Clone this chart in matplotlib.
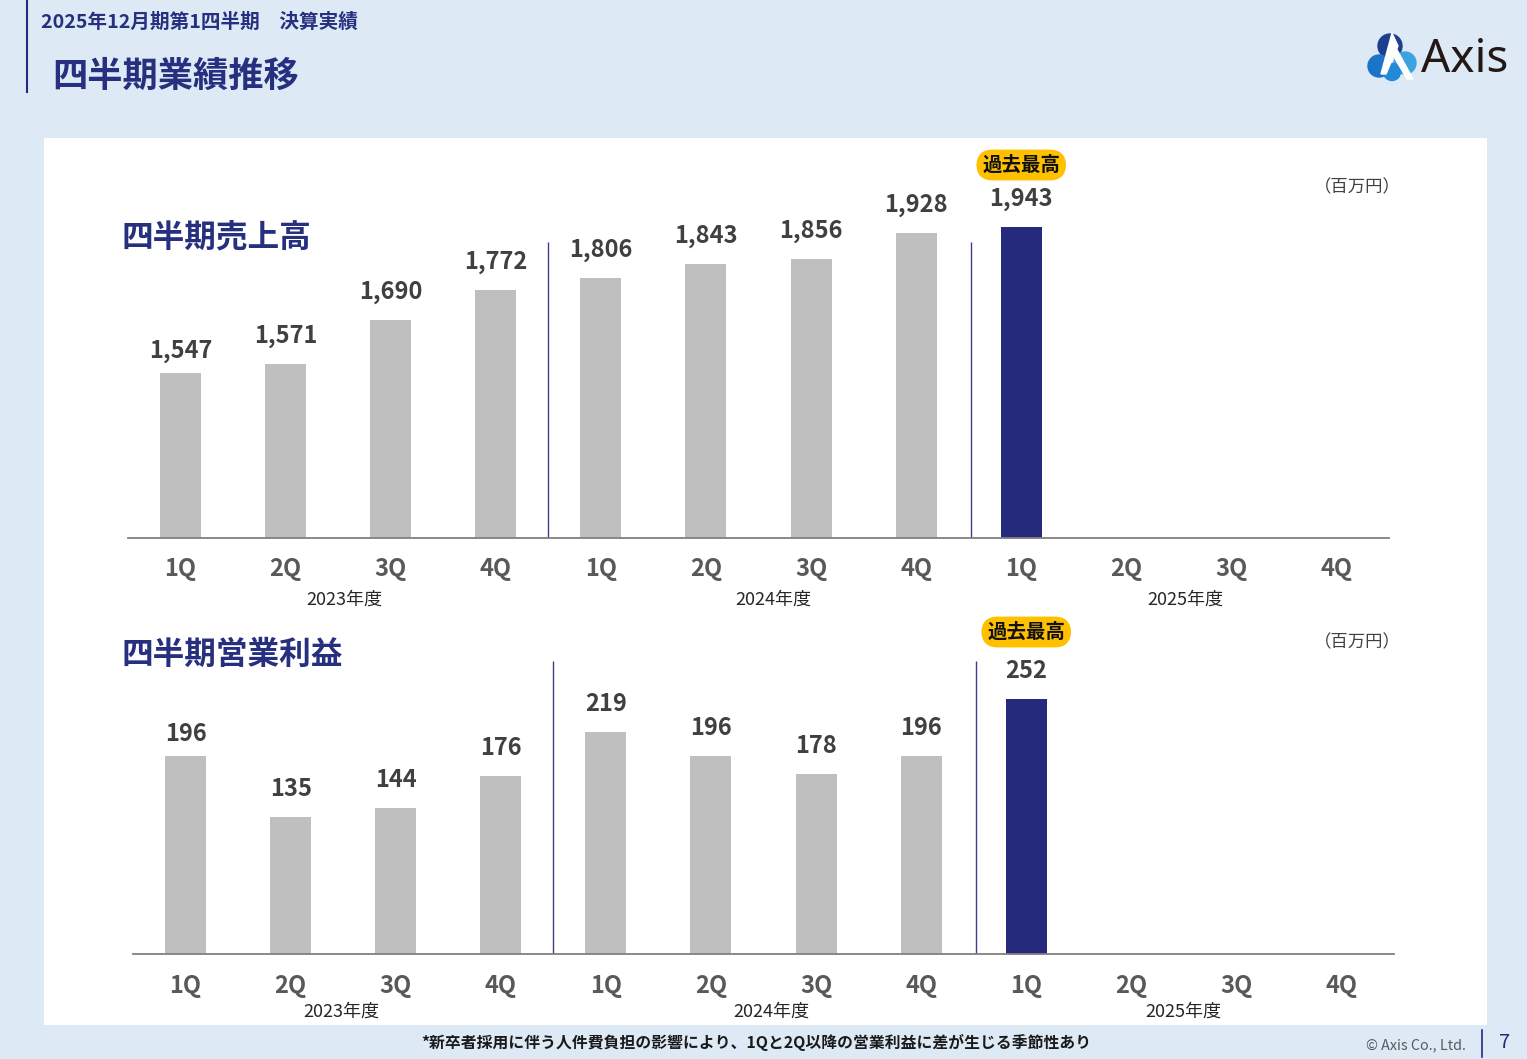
import matplotlib
matplotlib.use("Agg")
import matplotlib.pyplot as plt
from matplotlib.patches import Rectangle, Circle, Polygon

plt.rcParams['font.family'] = ['Noto Sans CJK JP', 'DejaVu Sans']

# ---- data ----
quarters = ['1Q', '2Q', '3Q', '4Q'] * 3
fiscal_years = ['2023年度', '2024年度', '2025年度']
sales = [1547, 1571, 1690, 1772, 1806, 1843, 1856, 1928, 1943]
op_profit = [196, 135, 144, 176, 219, 196, 178, 196, 252]
record_index = 8  # latest quarter, all-time high

# ---- styling ----
W, H = 1527, 1059
BG = '#DDEAF6'
NAVY = '#262A7C'
TITLE = '#27307F'
GRAY_BAR = '#BFBFBF'
VAL_COL = '#404040'
TICK_COL = '#595959'
BADGE = '#FFC000'

fig = plt.figure(figsize=(W / 100, H / 100), dpi=100)
fig.patch.set_facecolor(BG)

# page layer in pixel coordinates
bg = fig.add_axes([0, 0, 1, 1])
bg.set_xlim(0, W)
bg.set_ylim(H, 0)
bg.axis('off')
bg.add_patch(Rectangle((44, 138), 1443, 887, facecolor='white', edgecolor='none'))

# header
bg.plot([27, 27], [0, 92], color=NAVY, lw=1.5)
bg.text(41, 22, '2025年12月期第1四半期\u3000決算実績', fontsize=14.1, fontweight='bold',
        color=TITLE, va='center', ha='left')
bg.text(52, 76, '四半期業績推移', fontsize=25.4, fontweight='bold', color=TITLE,
        va='center', ha='left')

# logo
bg.add_patch(Circle((1390, 46), 12, color='#1C3F8E'))
bg.add_patch(Circle((1379, 66), 11, color='#1C74C8'))
bg.add_patch(Circle((1405, 63), 11, color='#3AA3E0'))
bg.add_patch(Circle((1392, 72), 8.5, color='#2189D6'))
bg.add_patch(Polygon([[1392, 33], [1398, 46], [1386, 74], [1381, 74]], closed=True,
                     color='white'))
bg.add_patch(Polygon([[1396, 48], [1413, 79], [1407, 79], [1393, 55]], closed=True,
                     color='white'))
bg.text(1421, 60, 'Axis', family='Noto Sans', fontsize=33, color='#231815',
        va='center', ha='left')

# footer
bg.text(756, 1042, '*新卒者採用に伴う人件費負担の影響により、1Qと2Q以降の営業利益に差が生じる季節性あり',
        fontsize=11.4, fontweight='bold', color='#1A1A1A', ha='center', va='center')
bg.text(1466, 1045, '© Axis Co., Ltd.', fontsize=10.3, color='#595959', ha='right', va='center')
bg.plot([1482, 1482], [1030, 1057], color=NAVY, lw=1.2)
bg.text(1505, 1043, '7', fontsize=14.5, color=NAVY, ha='center', va='center')


def add_chart(values, left, right, base_px, top_px, y0, ppu, divider_top_px,
              title, title_y, unit_y, year_px, q_y, year_y, badge_dy):
    ax = fig.add_axes([left / W, 1 - base_px / H, (right - left) / W, (base_px - top_px) / H])
    ax.patch.set_alpha(0)
    ax.set_xlim(-0.5, len(quarters) - 0.5)
    ax.set_ylim(y0, y0 + (base_px - top_px) / ppu)
    for s in ['top', 'right', 'left']:
        ax.spines[s].set_visible(False)
    ax.spines['bottom'].set_color('#808080')
    ax.spines['bottom'].set_linewidth(1.3)
    ax.set_yticks([])
    ax.set_xticks(range(len(quarters)))
    ax.set_xticklabels(quarters, fontsize=17, fontweight='bold', color=TICK_COL)
    ax.tick_params(axis='x', length=0, pad=(q_y - base_px) * 0.72 - 8)

    xs = list(range(len(values)))
    colors = [NAVY if i == record_index else GRAY_BAR for i in xs]
    ax.bar(xs, [v - y0 for v in values], bottom=y0, width=0.39, color=colors, zorder=2)

    for i, v in zip(xs, values):
        # the first label of each year block sits a little closer to its bar
        gap = 22 if i == 0 else 28
        ax.annotate(f'{v:,}', xy=(i, v), xytext=(0, gap * 0.72), textcoords='offset points',
                    ha='center', va='center', fontsize=17, fontweight='bold', color=VAL_COL)

    ax.annotate('過去最高', xy=(record_index, values[record_index]),
                xytext=(0, badge_dy * 0.72), textcoords='offset points',
                ha='center', va='center', fontsize=14, fontweight='bold', color='#111111',
                bbox=dict(boxstyle='round,pad=0.3,rounding_size=0.85', fc=BADGE, ec='none'))

    div_top = y0 + (base_px - divider_top_px) / ppu
    ax.vlines([3.5, 7.52], y0, div_top, color='#3B3F8C', lw=1.0, zorder=1)

    bg.text(122, title_y, title, fontsize=22.8, fontweight='bold', color=TITLE,
            ha='left', va='center')
    bg.text(1401, unit_y, '（百万円）', fontsize=12.5, color='#404040', ha='right', va='center')
    for xp, label in zip(year_px, fiscal_years):
        bg.text(xp, year_y, label, fontsize=13, color='#262626', ha='center', va='center')
    return ax


add_chart(sales, 128, 1389, 538, 150, 1100, 311 / 843, 242,
          '四半期売上高', 238, 187, [344, 773, 1185], 568, 600, 62)
add_chart(op_profit, 133, 1394, 954, 610, 0, 255 / 252, 661,
          '四半期営業利益', 655, 642, [341, 771, 1183], 985, 1012, 67)

fig.savefig('out.png', dpi=100, facecolor=BG)
